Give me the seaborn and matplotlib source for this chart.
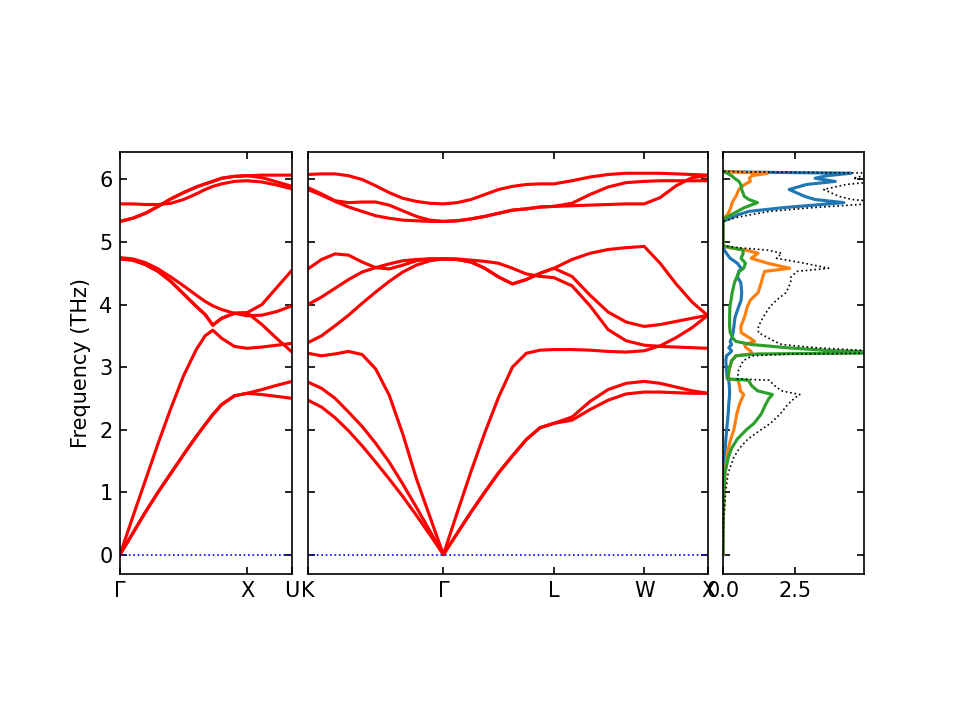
import numpy as np
import pandas as pd
import matplotlib
matplotlib.use("Agg")
import matplotlib.pyplot as plt
import seaborn as sns

# Path segment lengths (2pi/a units)
len_gx = 1.0
len_xu = 0.3536
len_kg = 1.0607
len_gl = 0.8660
len_lw = 0.7071
len_wx = 0.5

# Panel 1: Gamma-X-U
frac_gx = [0, 0.1, 0.2, 0.3, 0.4, 0.5, 0.6, 0.67, 0.73, 0.8, 0.9, 1.0]
bands_gx = [
    [0, 0.34, 0.68, 1.00, 1.30, 1.60, 1.89, 2.08, 2.24, 2.40, 2.54, 2.58],
    [0, 0.34, 0.68, 1.00, 1.30, 1.60, 1.89, 2.08, 2.24, 2.40, 2.54, 2.58],
    [0, 0.60, 1.19, 1.78, 2.34, 2.86, 3.28, 3.50, 3.59, 3.46, 3.33, 3.30],
    [4.73, 4.71, 4.64, 4.53, 4.37, 4.17, 3.97, 3.84, 3.67, 3.78, 3.86, 3.87],
    [4.73, 4.71, 4.64, 4.53, 4.37, 4.17, 3.97, 3.84, 3.67, 3.78, 3.86, 3.87],
    [4.75, 4.73, 4.67, 4.57, 4.44, 4.30, 4.15, 4.05, 3.98, 3.92, 3.86, 3.82],
    [5.33, 5.38, 5.46, 5.57, 5.69, 5.79, 5.88, 5.93, 5.97, 6.02, 6.05, 6.06],
    [5.33, 5.38, 5.46, 5.57, 5.69, 5.79, 5.88, 5.93, 5.97, 6.02, 6.05, 6.06],
    [5.61, 5.61, 5.60, 5.60, 5.62, 5.68, 5.77, 5.84, 5.89, 5.93, 5.97, 5.98],
]
frac_xu = [0, 0.33, 0.67, 1.0]
bands_xu = [
    [2.58, 2.56, 2.53, 2.50],
    [2.58, 2.64, 2.71, 2.77],
    [3.30, 3.32, 3.35, 3.38],
    [3.87, 3.68, 3.45, 3.24],
    [3.87, 4.00, 4.28, 4.55],
    [3.82, 3.83, 3.89, 3.98],
    [6.06, 6.07, 6.07, 6.07],
    [6.06, 6.03, 5.96, 5.89],
    [5.98, 5.96, 5.91, 5.85],
]

# Panel 2: K-Gamma-L-W-X
frac_kg = [0, 0.1, 0.2, 0.3, 0.4, 0.5, 0.6, 0.7, 0.8, 0.9, 1.0]
bands_kg = [
    [2.47, 2.36, 2.19, 1.98, 1.74, 1.48, 1.21, 0.93, 0.63, 0.32, 0],
    [2.76, 2.66, 2.50, 2.28, 2.05, 1.78, 1.48, 1.13, 0.76, 0.38, 0],
    [3.22, 3.18, 3.21, 3.25, 3.20, 2.97, 2.55, 1.93, 1.22, 0.61, 0],
    [3.39, 3.50, 3.66, 3.83, 4.02, 4.20, 4.37, 4.52, 4.63, 4.70, 4.73],
    [4.00, 4.12, 4.26, 4.40, 4.52, 4.59, 4.65, 4.70, 4.72, 4.73, 4.73],
    [4.57, 4.72, 4.81, 4.79, 4.68, 4.59, 4.57, 4.63, 4.70, 4.73, 4.73],
    [5.84, 5.75, 5.65, 5.56, 5.49, 5.42, 5.38, 5.35, 5.34, 5.33, 5.33],
    [5.87, 5.77, 5.66, 5.63, 5.64, 5.64, 5.59, 5.50, 5.41, 5.35, 5.33],
    [6.08, 6.09, 6.09, 6.06, 6.00, 5.90, 5.79, 5.70, 5.65, 5.62, 5.61],
]
frac_gl = [0, 0.125, 0.25, 0.375, 0.5, 0.625, 0.75, 0.875, 1.0]
bands_gl = [
    [0, 0.34, 0.68, 1.00, 1.31, 1.58, 1.84, 2.03, 2.10],
    [0, 0.34, 0.68, 1.00, 1.31, 1.58, 1.84, 2.03, 2.10],
    [0, 0.67, 1.33, 1.95, 2.52, 3.00, 3.22, 3.27, 3.28],
    [4.73, 4.72, 4.68, 4.58, 4.44, 4.33, 4.40, 4.50, 4.58],
    [4.73, 4.72, 4.68, 4.58, 4.44, 4.33, 4.40, 4.50, 4.58],
    [4.73, 4.73, 4.71, 4.69, 4.66, 4.58, 4.49, 4.45, 4.43],
    [5.33, 5.34, 5.37, 5.41, 5.46, 5.51, 5.53, 5.56, 5.57],
    [5.33, 5.34, 5.37, 5.41, 5.46, 5.51, 5.53, 5.56, 5.57],
    [5.61, 5.63, 5.68, 5.76, 5.84, 5.89, 5.92, 5.93, 5.93],
]
frac_lw = [0, 0.2, 0.4, 0.6, 0.8, 1.0]
bands_lw = [
    [2.10, 2.15, 2.32, 2.47, 2.57, 2.60],
    [2.10, 2.20, 2.45, 2.64, 2.74, 2.77],
    [3.28, 3.28, 3.27, 3.25, 3.24, 3.26],
    [4.58, 4.45, 4.15, 3.88, 3.72, 3.65],
    [4.58, 4.72, 4.82, 4.88, 4.91, 4.93],
    [4.43, 4.30, 3.98, 3.60, 3.42, 3.35],
    [5.57, 5.58, 5.59, 5.60, 5.61, 5.61],
    [5.57, 5.62, 5.76, 5.88, 5.95, 5.97],
    [5.93, 5.98, 6.04, 6.08, 6.10, 6.10],
]
frac_wx = [0, 0.25, 0.5, 0.75, 1.0]
bands_wx = [
    [2.60, 2.60, 2.59, 2.58, 2.58],
    [2.77, 2.74, 2.68, 2.62, 2.58],
    [3.26, 3.34, 3.47, 3.63, 3.83],
    [3.65, 3.68, 3.73, 3.78, 3.83],
    [4.93, 4.66, 4.33, 4.04, 3.82],
    [3.35, 3.33, 3.32, 3.31, 3.30],
    [5.61, 5.71, 5.90, 6.03, 6.06],
    [5.97, 5.98, 5.98, 5.98, 5.98],
    [6.10, 6.10, 6.09, 6.08, 6.07],
]

labels_p1 = ["Γ", "X", "U"]
labels_p2 = ["K", "Γ", "L", "W", "X"]

# Projected DOS (three atoms)
dos_freq = [0.00, 0.50, 1.00, 1.30, 1.55, 1.70, 1.85, 2.00, 2.10, 2.25, 2.40,
            2.50, 2.56, 2.62, 2.70, 2.79, 2.81, 2.95, 3.10, 3.18, 3.21, 3.23,
            3.26, 3.31, 3.36, 3.41, 3.46, 3.55, 3.65, 3.80, 3.97, 4.07, 4.19,
            4.35, 4.44, 4.53, 4.58, 4.66, 4.74, 4.82, 4.87, 4.91, 4.94, 5.33,
            5.39, 5.44, 5.49, 5.55, 5.63, 5.68, 5.73, 5.84, 5.92, 5.97, 6.02,
            6.06, 6.10, 6.12, 6.13]
dos_atom1 = [0.00, 0.00, 0.02, 0.04, 0.06, 0.08, 0.10, 0.13, 0.15, 0.18, 0.20,
             0.22, 0.23, 0.23, 0.22, 0.20, 0.15, 0.12, 0.10, 0.12, 0.20, 0.25,
             0.30, 0.20, 0.30, 0.25, 0.30, 0.35, 0.38, 0.42, 0.55, 0.63, 0.65,
             0.62, 0.50, 0.55, 0.63, 0.50, 0.25, 0.12, 0.05, 0.02, 0.00, 0.00,
             0.30, 0.55, 0.90, 2.10, 4.20, 3.20, 2.84, 2.30, 2.90, 3.90, 3.20,
             3.60, 4.45, 0.50, 0.00]
dos_atom2 = [0.00, 0.01, 0.04, 0.07, 0.13, 0.19, 0.27, 0.38, 0.42, 0.48, 0.57,
             0.66, 0.72, 0.60, 0.58, 0.52, 0.18, 0.22, 0.30, 0.45, 0.95, 1.00,
             0.95, 0.80, 0.75, 1.10, 0.95, 0.63, 0.62, 0.75, 0.85, 0.95, 1.22,
             1.33, 1.38, 1.45, 2.32, 1.56, 0.98, 1.22, 0.80, 0.20, 0.00, 0.00,
             0.05, 0.15, 0.22, 0.27, 0.32, 0.38, 0.45, 0.55, 0.75, 0.95, 0.92,
             1.00, 1.56, 0.30, 0.00]
dos_atom3 = [0.00, 0.01, 0.03, 0.07, 0.18, 0.30, 0.50, 0.82, 1.08, 1.33, 1.48,
             1.60, 1.72, 1.20, 1.00, 0.88, 0.17, 0.20, 0.30, 0.45, 1.20, 6.80,
             3.80, 2.20, 1.00, 0.45, 0.35, 0.25, 0.23, 0.23, 0.24, 0.28, 0.32,
             0.40, 0.48, 0.57, 0.72, 0.78, 0.63, 0.70, 0.70, 0.30, 0.00, 0.00,
             0.10, 0.30, 0.50, 0.74, 1.20, 0.90, 0.74, 0.65, 0.62, 0.55, 0.40,
             0.30, 0.15, 0.05, 0.00]


def band_frame(segments):
    rows = []
    start = 0.0
    for length, fracs, bands in segments:
        for b, vals in enumerate(bands):
            for f, v in zip(fracs, vals):
                rows.append({"band": b, "dist": start + f * length, "freq": v})
        start += length
    return pd.DataFrame(rows)


seg_p1 = [(len_gx, frac_gx, bands_gx), (len_xu, frac_xu, bands_xu)]
seg_p2 = [(len_kg, frac_kg, bands_kg), (len_gl, frac_gl, bands_gl),
          (len_lw, frac_lw, bands_lw), (len_wx, frac_wx, bands_wx)]
df1 = band_frame(seg_p1)
df2 = band_frame(seg_p2)
ticks_p1 = np.concatenate([[0], np.cumsum([s[0] for s in seg_p1])])
ticks_p2 = np.concatenate([[0], np.cumsum([s[0] for s in seg_p2])])

dos = pd.DataFrame({"freq": dos_freq, "a1": dos_atom1, "a2": dos_atom2, "a3": dos_atom3})
dos["total"] = dos["a1"] + dos["a2"] + dos["a3"]

ylim = (-0.31, 6.44)
fig = plt.figure(figsize=(6.4, 4.8), dpi=150)
ax1 = fig.add_axes([0.125, 0.2028, 0.1792, 0.5861])
ax2 = fig.add_axes([0.3208, 0.2028, 0.4167, 0.5861])
ax3 = fig.add_axes([0.7531, 0.2028, 0.1469, 0.5861])

for ax, df, ticks, labels in [(ax1, df1, ticks_p1, labels_p1), (ax2, df2, ticks_p2, labels_p2)]:
    sns.lineplot(data=df, x="dist", y="freq", units="band", estimator=None,
                 sort=False, color="red", linewidth=1.5, ax=ax, legend=False)
    ax.axhline(0, color="blue", linestyle=":", linewidth=0.8)
    ax.set_xlim(ticks[0], ticks[-1])
    ax.set_ylim(*ylim)
    ax.set_xticks(ticks)
    ax.set_xticklabels(labels)
    ax.set_xlabel("")
    ax.set_ylabel("")
    ax.tick_params(direction="in", top=True, right=True)

ax1.set_ylabel("Frequency (THz)")
ax2.set_yticklabels([])

colors = ["#1f77b4", "#ff7f0e", "#2ca02c"]
for col, c in zip(["a1", "a2", "a3"], colors):
    sns.lineplot(data=dos, x=col, y="freq", sort=False, estimator=None,
                 orient="y", color=c, linewidth=1.5, ax=ax3, legend=False)
sns.lineplot(data=dos, x="total", y="freq", sort=False, estimator=None,
             orient="y", color="black", linestyle=":", linewidth=0.8, ax=ax3, legend=False)
ax3.set_xlim(0, 4.9)
ax3.set_xticks([0.0, 2.5])
ax3.set_xticklabels(["0.0", "2.5"])
ax3.set_yticks(ax1.get_yticks())
ax3.set_ylim(*ylim)
ax3.set_yticklabels([])
ax3.set_xlabel("")
ax3.set_ylabel("")
ax3.tick_params(direction="in", top=True, right=True)

fig.savefig("out.png", dpi=150)
